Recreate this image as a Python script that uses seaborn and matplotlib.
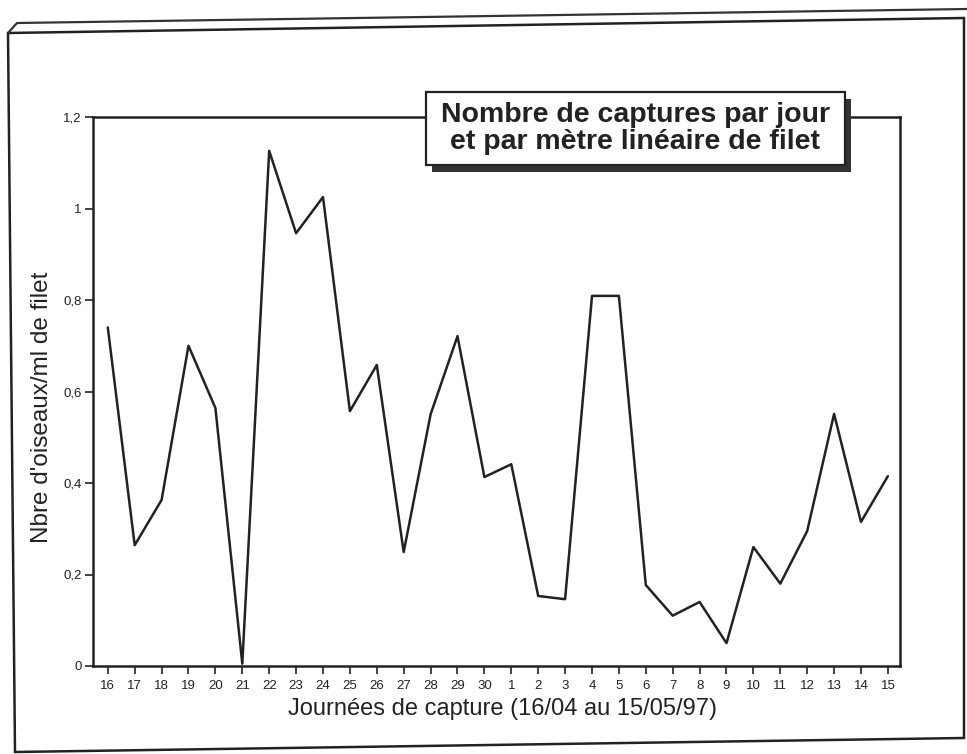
import matplotlib
matplotlib.use("Agg")
import matplotlib.pyplot as plt
import matplotlib.patches as mpatches
import seaborn as sns
import pandas as pd

days = ["16", "17", "18", "19", "20", "21", "22", "23", "24", "25", "26", "27", "28", "29", "30",
        "1", "2", "3", "4", "5", "6", "7", "8", "9", "10", "11", "12", "13", "14", "15"]
captures = [0.74, 0.264, 0.363, 0.70, 0.564, 0.005, 1.126, 0.946, 1.025, 0.557, 0.658, 0.249,
            0.55, 0.721, 0.413, 0.441, 0.153, 0.146, 0.809, 0.809, 0.177, 0.11, 0.14, 0.05,
            0.26, 0.18, 0.295, 0.551, 0.315, 0.415]
y_ticks = [0, 0.2, 0.4, 0.6, 0.8, 1.0, 1.2]
y_tick_labels = ["0", "0,2", "0,4", "0,6", "0,8", "1", "1,2"]

title_text = "Nombre de captures par jour\net par mètre linéaire de filet"
xlabel_text = "Journées de capture (16/04 au 15/05/97)"
ylabel_text = "Nbre d'oiseaux/ml de filet"

sns.set_style("ticks")
plt.rcParams["font.family"] = ["Liberation Sans", "DejaVu Sans"]

df = pd.DataFrame({"pos": range(len(days)), "val": captures})

W, H = 967, 754


def fx(px):
    return px / W


def fy(py):
    return 1 - py / H


fig = plt.figure(figsize=(W / 100, H / 100), dpi=100)
ax = fig.add_axes([fx(93), fy(666), (900 - 93) / W, (666 - 117) / H])

sns.lineplot(data=df, x="pos", y="val", ax=ax, color="#222222", linewidth=1.8)

ax.set_xlim(-0.55, 29.45)
ax.set_ylim(0, 1.2)
ax.set_xticks(range(len(days)))
ax.set_xticklabels(days, fontsize=9.5)
ax.set_yticks(y_ticks)
ax.set_yticklabels(y_tick_labels, fontsize=9.5)
ax.tick_params(axis="both", direction="out", length=6, width=1.2, color="#222222",
               labelcolor="#222222", pad=2)
ax.tick_params(axis="x", pad=4)
for s in ax.spines.values():
    s.set_linewidth(1.8)
    s.set_color("#222222")
ax.set_xlabel(xlabel_text, fontsize=17, color="#222222")
ax.set_ylabel(ylabel_text, fontsize=17.5, color="#222222")
ax.xaxis.set_label_coords(0.508, -0.058)
ax.yaxis.set_label_coords(-0.049, 0.472)

# outer frame (scanned page border) with double top line
frame_pts = [(8, 33), (964, 18), (964, 738), (15, 752)]
frame = mpatches.Polygon([(fx(x), fy(y)) for x, y in frame_pts], closed=True,
                         transform=fig.transFigure, fill=False, edgecolor="#222222",
                         linewidth=1.8, zorder=0)
fig.add_artist(frame)
fig.add_artist(plt.Line2D([fx(8), fx(17), fx(967)], [fy(33), fy(23), fy(9)],
                          transform=fig.transFigure, color="#333333", linewidth=1.6))

# title box with shadow
bx0, bx1, by0, by1 = 426, 845, 92, 165
shadow = mpatches.Rectangle((fx(bx0 + 6), fy(by1 + 7)), (bx1 - bx0) / W, (by1 - by0) / H,
                            transform=fig.transFigure, facecolor="#333333", edgecolor="none", zorder=5)
box = mpatches.Rectangle((fx(bx0), fy(by1)), (bx1 - bx0) / W, (by1 - by0) / H,
                         transform=fig.transFigure, facecolor="white", edgecolor="#222222",
                         linewidth=1.6, zorder=6)
fig.add_artist(shadow)
fig.add_artist(box)
fig.text(fx((bx0 + bx1) / 2), fy((by0 + by1) / 2), title_text, ha="center", va="center",
         fontsize=20.5, fontweight="bold", color="#222222", linespacing=1.02, zorder=7)

fig.savefig("out.png", dpi=100, facecolor="white")
